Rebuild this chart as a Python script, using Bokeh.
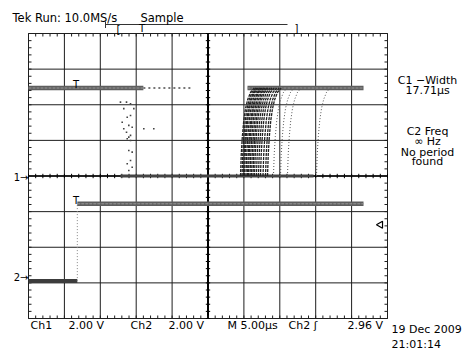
import numpy as np
from bokeh.plotting import figure
from bokeh.models import Range1d, Label
from bokeh.embed import file_html
from bokeh.resources import INLINE

# ---------------- data (read from the screen capture) ----------------
# horizontal: 5 us/div, 10 divisions, centred on 0 us
X_MAJOR = [-25, -20, -15, -10, -5, 0, 5, 10, 15, 20, 25]          # us
# vertical: 2 V/div, 8 divisions, ch1 ground on the centre line
Y_MAJOR = [-8, -6, -4, -2, 0, 2, 4, 6, 8]                          # V (ch1 scale)
CH2_OFFSET = -5.7                                                  # V, ch2 ground marker on ch1 scale

# Ch1 (persistence display)
CH1_HIGH = 4.94
CH1_LOW = 0.0
CH1_HIGH_LEFT_T = [-25.0, -9.0]        # dense part
CH1_HIGH_LEFT_SPARSE_T = [-9.0, -2.4]  # sparse part
CH1_LOW_T = [-12.2, 14.7]
CH1_HIGH_RIGHT_T = [5.5, 21.66]
# rising edge start times (us)
CH1_RISE_DENSE = [4.53, 4.74, 4.94, 5.08, 5.29, 5.50, 5.64, 5.85, 6.06, 6.27,
                  6.48, 6.75, 7.03, 7.31, 7.66, 8.01, 8.29]
CH1_RISE_SPARSE = [9.12, 10.10, 11.07, 15.11]
# measured shape of one rising edge: time after start (us) vs level (V)
EDGE_DT = [0.0, 0.10, 0.25, 0.45, 0.70, 1.00, 1.40, 1.90]
EDGE_V = [0.0, 1.2, 2.2, 3.1, 3.8, 4.3, 4.7, 4.94]
# scattered samples on the falling edges
CH1_FALL_T = [-12.19, -11.35, -10.79, -10.33, -11.73, -11.25, -10.79, -11.95, -11.03, -10.56,
              -11.73, -8.94, -7.55, -11.35, -10.79, -11.03, -11.25, -10.79, -11.03, -10.56,
              -10.79, -11.25, -10.56, -11.03]
CH1_FALL_V = [4.15, 4.15, 4.06, 3.78, 3.78, 3.30, 3.40, 3.02, 2.84, 2.74,
              2.65, 2.65, 2.65, 2.46, 2.28, 2.18, 2.09, 1.99, 1.43, 1.34,
              0.87, 0.69, 0.49, 0.31]

# Ch2
CH2_LOW = -0.2
CH2_HIGH = 4.14
CH2_RISE_T = -18.2
CH2_T = [-25.0, 21.66]
TRIG_LEVEL = 2.96

FONT = "DejaVu Sans"
TRACE = "#5e5e5e"
GRID = "#1e1e1e"

# ---------------- figure: frame covers the whole canvas ----------------
W, H = 462, 350
PX_US = 359 / 50.0          # pixels per us
PX_V = 285 / 16.0           # pixels per V
GX0, GY0 = 28, 33           # graticule top-left inside the canvas

def ax(cx):
    return -25 + (cx - GX0) / PX_US

def ay(cy):
    return 8 - (cy - GY0) / PX_V

p = figure(width=W, height=H, output_backend="svg", toolbar_location=None,
           x_range=Range1d(ax(0), ax(W)), y_range=Range1d(ay(H), ay(0)),
           x_axis_location=None, y_axis_location=None, min_border=0,
           outline_line_color=None, background_fill_color="white",
           border_fill_color="white")
p.grid.visible = False

# graticule lines
xs_major = np.array(X_MAJOR, float)
ys_major = np.array(Y_MAJOR, float)
p.segment(x0=xs_major, y0=ys_major[0], x1=xs_major, y1=ys_major[-1],
          line_color=GRID, line_width=1)
p.segment(x0=xs_major[0], y0=ys_major, x1=xs_major[-1], y1=ys_major,
          line_color=GRID, line_width=1)
p.segment(x0=[0], y0=[ys_major[0]], x1=[0], y1=[ys_major[-1]], line_color="black", line_width=2)
p.segment(x0=[xs_major[0]], y0=[0], x1=[xs_major[-1]], y1=[0], line_color="black", line_width=1.5)

# minor ticks (5 per division)
tmin = np.arange(-25, 25.01, 1.0)
vmin = np.arange(-8, 8.01, 0.4)
tl_v = 3 / PX_V
tl_t = 3 / PX_US
p.segment(x0=tmin, y0=8, x1=tmin, y1=8 - tl_v, line_color=GRID, line_width=1)
p.segment(x0=tmin, y0=-8, x1=tmin, y1=-8 + tl_v, line_color=GRID, line_width=1)
p.segment(x0=-25, y0=vmin, x1=-25 + tl_t, y1=vmin, line_color=GRID, line_width=1)
p.segment(x0=25, y0=vmin, x1=25 - tl_t, y1=vmin, line_color=GRID, line_width=1)
p.segment(x0=tmin, y0=-2.2 / PX_V, x1=tmin, y1=2.2 / PX_V, line_color="black", line_width=1)
p.segment(x0=-2.2 / PX_US, y0=vmin, x1=2.2 / PX_US, y1=vmin, line_color="black", line_width=1)

# ---------------- Ch2 ----------------
g2lo = CH2_OFFSET + CH2_LOW
g2hi = CH2_OFFSET + CH2_HIGH
p.line(x=[CH2_T[0], CH2_RISE_T], y=[g2lo, g2lo], line_color="#3c3c3c", line_width=4)
p.line(x=[CH2_RISE_T, CH2_RISE_T], y=[g2lo, g2hi], line_color="#888888", line_width=1,
       line_dash="1 2")
p.line(x=[CH2_RISE_T, CH2_T[1]], y=[g2hi, g2hi], line_color=TRACE, line_width=4.5)
p.line(x=[CH2_RISE_T, CH2_T[1]], y=[g2hi, g2hi], line_color="#999999", line_width=1,
       line_dash="3 1")

# ---------------- Ch1 ----------------
p.line(x=CH1_HIGH_LEFT_T, y=[CH1_HIGH] * 2, line_color=TRACE, line_width=4.5)
p.line(x=CH1_HIGH_LEFT_T, y=[CH1_HIGH] * 2, line_color="#999999", line_width=1, line_dash="3 1")
p.line(x=CH1_HIGH_LEFT_SPARSE_T, y=[CH1_HIGH] * 2, line_color="#777777", line_width=2,
       line_dash="2 3")
p.line(x=CH1_LOW_T, y=[CH1_LOW] * 2, line_color="#444444", line_width=3)
p.line(x=CH1_HIGH_RIGHT_T, y=[CH1_HIGH] * 2, line_color=TRACE, line_width=4.5)
p.line(x=CH1_HIGH_RIGHT_T, y=[CH1_HIGH] * 2, line_color="#999999", line_width=1, line_dash="3 1")

edt = np.array(EDGE_DT)
p.multi_line(xs=[list(t0 + edt) for t0 in CH1_RISE_DENSE], ys=[EDGE_V] * len(CH1_RISE_DENSE),
             line_color="#222222", line_width=1.3, line_dash="3 1")
p.multi_line(xs=[list(t0 + edt) for t0 in CH1_RISE_SPARSE], ys=[EDGE_V] * len(CH1_RISE_SPARSE),
             line_color="#555555", line_width=1, line_dash="1 2")
p.scatter(x=CH1_FALL_T, y=CH1_FALL_V, marker="square", size=1.6, line_color=None,
          fill_color="#444444")

# trigger level marker (right edge)
p.scatter(x=[ax(380)], y=[CH2_OFFSET + TRIG_LEVEL], marker="triangle", angle=np.pi / 2,
          size=7, fill_color="white", line_color="black", line_width=1.2)


# ---------------- texts (positions in canvas pixels) ----------------
def lab(cx, cy, text, size="11px", align="left", baseline="alphabetic"):
    p.add_layout(Label(x=ax(cx), y=ay(cy), text=text, text_font=FONT, text_font_size=size,
                       text_align=align, text_baseline=baseline, text_color="black"))

lab(12, 17, "Tek Run: 10.0MS/s", size="11.5px")
lab(140, 17, "Sample", size="11.5px")

# record-position bracket
bx0, bx1, by = ax(105), ax(287), ay(24)
p.segment(x0=[bx0], y0=[by], x1=[bx1], y1=[by], line_color="#333333", line_width=1)
p.segment(x0=[bx0, bx1], y0=[ay(21)], x1=[bx0, bx1], y1=[ay(27.5)], line_color="#333333",
          line_width=1)
lab(118, 29, "[", size="10px", align="center")
lab(296, 28, "]", size="10px", align="center")
lab(141.5, 27.5, "T", size="10px", align="center")

# trace markers
lab(28, 177, "1\u2192", size="10px", align="right", baseline="middle")
lab(28, 276.5, "2\u2192", size="10px", align="right", baseline="middle")
lab(75.5, 83.5, "T", size="10px", align="center")
lab(75.5, 200, "T", size="10px", align="center")

# bottom readout
for cx, t in [(30, "Ch1"), (68, "2.00 V"), (130, "Ch2"), (168, "2.00 V"),
              (227, "M 5.00\u00b5s"), (288, "Ch2 \u0283"), (347, "2.96 V")]:
    lab(cx, 325, t, size="11px")
lab(391, 329, "19 Dec 2009", size="11px")
lab(391, 344, "21:01:14", size="11px")

# measurement panel
for cy, t in [(80, "C1 \u2212Width"), (89.5, "17.71\u00b5s"), (131, "C2 Freq"),
              (141, "\u221e Hz"), (151.5, "No period"), (160.5, "found")]:
    lab(427, cy, t, size="11px", align="center")

open("out.html", "w").write(file_html(p, INLINE))
